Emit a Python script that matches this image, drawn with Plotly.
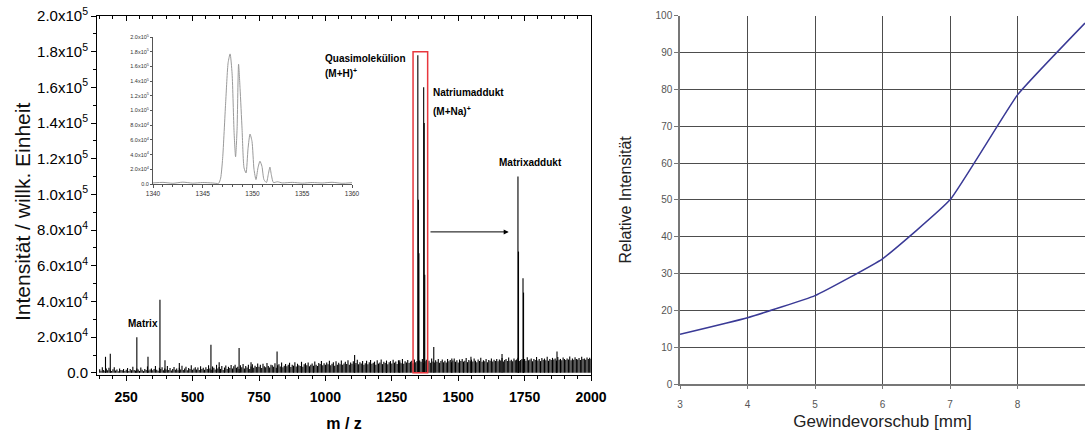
import plotly.graph_objects as go

# ---------------- data ----------------
# main mass spectrum: baseline noise (every 5 m/z from 150), intensities in 1e3
noise_start = 150
noise_step = 5
noise_k = [
    2.0,1.2,3.1,1.6,1.0,2.4,1.4,2.8,1.7,1.1,2.0,3.2,1.3,1.9,0.9,2.5,1.6,1.4,2.2,1.1,
    1.8,2.7,1.0,2.1,1.5,3.4,1.6,1.3,2.4,1.9,1.1,3.0,1.8,1.0,2.2,1.6,3.6,1.3,1.9,2.5,
    1.5,2.2,3.9,1.8,1.2,2.8,2.1,3.2,1.5,2.4,1.9,3.8,1.6,2.7,1.3,2.1,3.3,1.8,2.5,1.5,
    2.8,1.9,4.0,1.6,2.4,3.4,1.5,2.7,2.1,4.3,1.8,2.5,3.1,1.9,3.0,1.6,3.7,2.2,2.8,1.8,
    3.1,2.1,4.2,2.4,1.8,3.6,2.8,1.9,4.5,2.5,3.3,2.2,3.9,1.6,3.0,4.1,2.1,3.4,2.7,4.4,
    2.4,3.7,4.6,2.8,3.4,2.1,4.2,3.1,5.0,2.5,3.9,3.0,4.5,2.2,3.6,4.8,2.8,4.0,3.3,5.2,
    3.4,4.5,2.7,5.1,3.7,3.1,5.5,3.9,3.0,4.6,4.2,3.4,5.4,2.8,4.3,4.8,3.6,5.8,3.1,4.0,
    4.9,3.7,4.5,5.7,3.3,4.6,4.0,6.0,3.6,5.1,4.3,3.9,6.2,3.4,4.8,5.4,4.2,5.8,3.7,4.6,
    5.2,4.0,6.3,4.6,3.9,5.5,4.9,6.6,4.2,5.4,4.5,5.8,4.8,6.8,4.3,5.1,6.0,4.0,6.5,4.6,
    5.7,4.8,6.9,4.5,5.2,6.2,4.9,7.1,4.6,5.8,5.1,6.5,4.5,5.5,7.4,4.8,6.0,5.2,6.6,4.6,
    5.4,6.8,4.8,6.0,7.2,5.1,5.7,6.3,4.6,7.1,5.2,5.8,7.5,4.9,6.2,5.5,6.9,4.8,6.0,6.6,
    5.2,7.4,5.7,6.3,4.9,7.1,6.0,5.4,7.7,5.1,6.5,5.8,7.2,5.5,6.2,6.8,5.4,7.5,6.0,6.6,
    5.8,6.9,6.2,7.8,5.5,6.5,7.4,6.0,6.8,5.7,8.0,6.3,5.8,7.1,6.2,7.7,5.7,6.6,7.5,6.0,
    6.8,5.8,7.8,6.5,7.2,6.0,6.9,8.1,6.2,7.1,5.8,7.5,6.6,7.7,6.3,6.8,8.3,6.0,7.2,6.5,
    7.4,6.3,8.0,6.8,6.0,7.5,6.6,8.4,6.2,7.1,6.5,7.8,6.0,7.2,6.8,8.1,6.3,7.4,6.6,7.7,
    6.5,7.5,6.9,8.3,6.3,7.2,7.7,6.6,8.6,6.8,7.4,6.5,8.0,7.1,7.5,8.4,6.6,7.2,7.8,6.9,
    7.7,6.8,8.7,7.1,7.5,8.1,6.5,7.8,7.2,8.9,6.9,7.7,6.6,8.3,7.4,8.0,7.1,9.0,6.8,7.7,
    7.2,8.4,7.5,8.0,6.9,8.9,7.4,7.8,7.1,8.6,7.7,7.2,8.1,7.5,9.2,7.1,8.0,7.4,8.7,7.8,
    7.5,8.3,7.2,9.0,7.7,8.1,7.4,8.6,7.8,8.4,7.7,
]
# distinct peaks (m/z, intensity in 1e3)
peak_mz = [172, 190, 290, 332, 377, 396, 450, 569, 600, 675, 720, 818, 1110, 1230, 1280,
           1348, 1350, 1352, 1370, 1372, 1374, 1408, 1476, 1548, 1665,
           1725, 1727, 1744, 1746, 1872]
peak_k = [9, 10.7, 20, 9, 41, 7, 5.5, 15.7, 6, 14, 6, 12, 10, 6, 7,
          178, 97, 67, 160, 140, 55, 14.5, 8, 9, 10.5,
          110, 68, 53, 45, 12]

# inset: isotope pattern of (M+H)+
inset_mz = [1340, 1341, 1342, 1343, 1344, 1345, 1346, 1346.6, 1346.8, 1347.0, 1347.3,
            1347.55, 1347.75, 1347.95, 1348.15, 1348.3, 1348.45, 1348.6, 1348.75, 1348.95,
            1349.15, 1349.35, 1349.55, 1349.75, 1349.95, 1350.15, 1350.35, 1350.55, 1350.75,
            1350.95, 1351.15, 1351.4, 1351.6, 1351.75, 1351.9, 1352.1, 1352.5, 1353, 1354,
            1355, 1356, 1357, 1358, 1359, 1360]
inset_k = [1.5, 2.2, 1.0, 2.5, 1.2, 2.0, 1.4, 1.0, 8, 35, 110, 165, 177, 150, 70, 37, 75,
           163, 130, 75, 22, 15, 48, 68, 58, 20, 6, 22, 31, 24, 6, 2, 14, 23, 12, 2, 3.0,
           1.5, 2.2, 1.2, 2.0, 1.4, 2.3, 1.0, 1.8]

# right chart
feed_mm = [3, 4, 5, 6, 7, 8, 9]
rel_int = [13.5, 18, 24, 34, 50, 78.5, 98]

y_ticks = [0, 2e4, 4e4, 6e4, 8e4, 1e5, 1.2e5, 1.4e5, 1.6e5, 1.8e5, 2e5]
y_ticktext = ["0.0", "2.0x10<sup>4</sup>", "4.0x10<sup>4</sup>", "6.0x10<sup>4</sup>",
              "8.0x10<sup>4</sup>", "1.0x10<sup>5</sup>", "1.2x10<sup>5</sup>",
              "1.4x10<sup>5</sup>", "1.6x10<sup>5</sup>", "1.8x10<sup>5</sup>",
              "2.0x10<sup>5</sup>"]

# ---------------- build ----------------
sx, sy = [], []
for i, k in enumerate(noise_k):
    m = noise_start + i * noise_step
    sx += [m, m, None]
    sy += [0, k * 1e3, None]
for m, k in zip(peak_mz, peak_k):
    sx += [m, m, None]
    sy += [0, k * 1e3, None]

FONT = "Liberation Sans, Arial, sans-serif"
fig = go.Figure()
fig.add_trace(go.Scatter(x=sx, y=sy, mode="lines", line=dict(color="black", width=1.1),
                         xaxis="x", yaxis="y", showlegend=False, hoverinfo="skip"))
fig.add_trace(go.Scatter(x=[1000], y=[0], mode="markers", marker=dict(opacity=0),
                         xaxis="x4", yaxis="y", showlegend=False, hoverinfo="skip"))
fig.add_trace(go.Scatter(x=inset_mz, y=[k * 1e3 for k in inset_k], mode="lines",
                         line=dict(color="#9a9a9a", width=1, shape="spline", smoothing=0.6),
                         xaxis="x2", yaxis="y2", showlegend=False))
fig.add_trace(go.Scatter(x=feed_mm, y=rel_int, mode="lines",
                         line=dict(color="#3a3a96", width=1.5, shape="spline", smoothing=0.35),
                         xaxis="x3", yaxis="y3", showlegend=False))

W, H = 1085, 437
dom_x1 = [97 / W, 591 / W]
dom_y1 = [1 - 375 / H, 1 - 16 / H]

fig.update_layout(
    width=W, height=H, margin=dict(l=0, r=0, t=0, b=0, pad=0),
    paper_bgcolor="white", plot_bgcolor="rgba(0,0,0,0)",
    font=dict(family=FONT, color="black"),
    xaxis=dict(domain=dom_x1, anchor="y", range=[140, 2000], tick0=250, dtick=250,
               automargin=False,
               ticks="outside", ticklen=5, tickwidth=1, tickcolor="black",
               ticklabelstandoff=4,
               minor=dict(dtick=50, ticks="outside", ticklen=3, tickcolor="black"),
               showline=True, linecolor="black", linewidth=1, mirror=True,
               showgrid=False, zeroline=False,
               tickfont=dict(size=14, family=FONT, weight="bold"),
               title=dict(text="<b>m / z</b>", font=dict(size=16), standoff=14)),
    xaxis4=dict(overlaying="x", anchor="y", side="top", range=[140, 2000], tick0=250,
                automargin=False,
                dtick=250, ticks="inside", ticklen=5, tickcolor="black",
                minor=dict(dtick=50, ticks="inside", ticklen=3, tickcolor="black"),
                showticklabels=False, showgrid=False, zeroline=False, showline=False),
    yaxis=dict(domain=dom_y1, anchor="x", range=[-1200, 2e5], tickvals=y_ticks,
               automargin=False,
               ticktext=y_ticktext, ticks="outside", ticklen=5, tickcolor="black",
               minor=dict(dtick=1e4, ticks="outside", ticklen=3, tickcolor="black"),
               showline=True, linecolor="black", linewidth=1, mirror=True,
               showgrid=False, zeroline=False, tickfont=dict(size=15)),
    xaxis2=dict(domain=[153 / W, 352 / W], anchor="y2", range=[1340, 1360], dtick=5,
                automargin=False,
                ticks="outside", ticklen=3, tickcolor="#555",
                minor=dict(dtick=1, ticks="outside", ticklen=2, tickcolor="#555"),
                showline=True, linecolor="#555", linewidth=1, showgrid=False,
                zeroline=False, tickfont=dict(size=6.5, color="#333")),
    yaxis2=dict(domain=[1 - 184 / H, 1 - 37 / H], anchor="x2", range=[0, 2e5],
                automargin=False,
                tickvals=y_ticks, ticktext=y_ticktext, ticks="outside", ticklen=2,
                tickcolor="#555", showline=True, linecolor="#555", linewidth=1,
                showgrid=False, zeroline=False, tickfont=dict(size=5.5, color="#333")),
    xaxis3=dict(domain=[680 / W, 1.0], anchor="y3", range=[3, 9], dtick=1,
                automargin=False,
                ticks="outside", ticklen=3, tickcolor="#777", ticklabelstandoff=7,
                showline=True, linecolor="#777", linewidth=1.5,
                showgrid=True, gridcolor="#4d4d4d", gridwidth=1.4, zeroline=False,
                tickfont=dict(size=10, color="#555"),
                title=dict(text="Gewindevorschub [mm]", font=dict(size=17, color="#222"),
                           standoff=6)),
    yaxis3=dict(domain=[1 - 384 / H, 1 - 15.7 / H], anchor="x3", range=[0, 100], dtick=10,
                automargin=False,
                ticks="outside", ticklen=4, tickcolor="#777", showline=True,
                linecolor="#777", linewidth=1.5, showgrid=True, gridcolor="#4d4d4d",
                gridwidth=1.4, zeroline=False, tickfont=dict(size=10, color="#555"),
                title=dict(text="Relative Intensität", font=dict(size=16, color="#222"),
                           standoff=20)),
)

# left y-axis title (placed as rotated text)
fig.add_annotation(x=22 / W, y=1 - 212 / H, xref="paper", yref="paper",
                   text="Intensität / willk. Einheit", textangle=-90, showarrow=False,
                   xanchor="center", yanchor="middle",
                   font=dict(size=21, family=FONT, color="#111"))

# red box around the quasi-molecular ion region
fig.add_shape(type="rect", xref="x", yref="y", x0=1330, x1=1385, y0=0, y1=1.8e5,
              line=dict(color="#e8373d", width=1.5))

# arrow to matrix adduct
fig.add_annotation(x=1690, y=7.9e4, ax=1390, ay=7.9e4, xref="x", yref="y",
                   axref="x", ayref="y", text="", showarrow=True, arrowhead=2,
                   arrowsize=1, arrowwidth=1, arrowcolor="black")

lab_font = dict(size=10, family=FONT, color="black")
labels = [
    (991, 176e3, "<b>Quasimolekülion</b>"),
    (991, 168e3, "<b>(M+H)<sup>+</sup></b>"),
    (1397, 157e3, "<b>Natriumaddukt</b>"),
    (1397, 147e3, "<b>(M+Na)<sup>+</sup></b>"),
    (1646, 118e3, "<b>Matrixaddukt</b>"),
    (249, 27.5e3, "<b>Matrix</b>"),
]
for x, y, t in labels:
    fig.add_annotation(x=x, y=y, xref="x", yref="y", text=t, showarrow=False,
                       xanchor="left", yanchor="middle", font=lab_font)

fig.write_html("out.html", config={"displayModeBar": False},
               post_script="document.body.style.margin='0';"
                           "document.body.style.overflow='hidden';")
